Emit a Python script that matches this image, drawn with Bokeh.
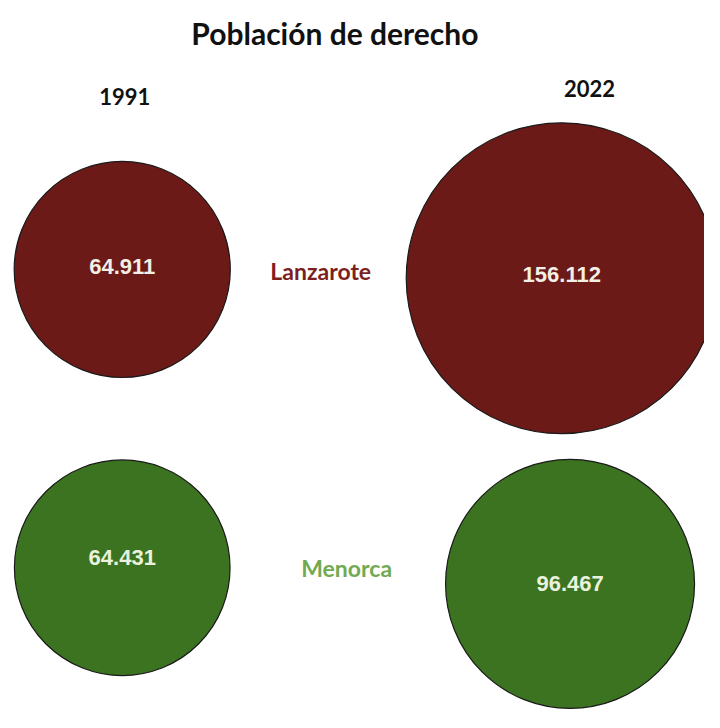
from bokeh.plotting import figure
from bokeh.models import Range1d, ColumnDataSource
from bokeh.core.properties import value
from bokeh.embed import file_html
from bokeh.resources import INLINE

# ---- data ----
title = "Población de derecho"
years = ["1991", "2022"]
islands = ["Lanzarote", "Menorca"]
pop_1991 = [64911, 64431]
pop_2022 = [156112, 96467]
value_labels_1991 = ["64.911", "64.431"]
value_labels_2022 = ["156.112", "96.467"]

# ---- layout (reference canvas 720x728, y downward) ----
W, H = 704, 712
REF_W, REF_H = 720, 728
cx = {("1991", "Lanzarote"): 124.5, ("1991", "Menorca"): 124.5,
      ("2022", "Lanzarote"): 574.0, ("2022", "Menorca"): 582.5}
cy = {("1991", "Lanzarote"): 275.0, ("1991", "Menorca"): 580.0,
      ("2022", "Lanzarote"): 284.0, ("2022", "Menorca"): 596.5}
lab_dy = {("1991", "Lanzarote"): -3, ("1991", "Menorca"): -10,
          ("2022", "Lanzarote"): -4, ("2022", "Menorca"): 0}
island_label_pos = {"Lanzarote": (327.5, 277), "Menorca": (354, 580)}
year_label_pos = {"1991": (127, 98.5), "2022": (602.5, 90)}
fill = {"Lanzarote": "#6b1a17", "Menorca": "#3b7320"}
label_col = {"Lanzarote": "#7d1f1e", "Menorca": "#72aa52"}
val_col = {"Lanzarote": "#f2efe6", "Menorca": "#eaf2de"}

# radius scale (reference pixels) from population
def radius_px(v):
    return 76.0 + 0.000532 * v

xs, ys, rs, cols, labs, ly, vc = [], [], [], [], [], [], []
for yr, pops, vl in (("1991", pop_1991, value_labels_1991), ("2022", pop_2022, value_labels_2022)):
    for isl, v, lab in zip(islands, pops, vl):
        xs.append(cx[(yr, isl)])
        ys.append(cy[(yr, isl)])
        ly.append(cy[(yr, isl)] + lab_dy[(yr, isl)])
        rs.append(radius_px(v))
        cols.append(fill[isl])
        labs.append(lab)
        vc.append(val_col[isl])

src = ColumnDataSource(dict(x=xs, y=ys, ly=ly, r=rs, c=cols, lab=labs, vc=vc))

p = figure(width=W, height=H, output_backend="svg", toolbar_location=None,
           x_range=Range1d(0, REF_W), y_range=Range1d(REF_H, 0),
           min_border=0, outline_line_color=None)
p.axis.visible = False
p.grid.visible = False
p.background_fill_color = "white"
p.border_fill_color = "white"

p.circle(x="x", y="y", radius="r", radius_dimension="x", source=src,
         fill_color="c", line_color="#1a1a1a", line_width=1.2)
p.text(x="x", y="ly", text="lab", source=src, text_color="vc",
       text_font=value("Liberation Sans"), text_font_style="bold",
       text_font_size="22px", text_align="center", text_baseline="middle")

# island labels
p.text(x=[island_label_pos[i][0] for i in islands], y=[island_label_pos[i][1] for i in islands],
       text=islands, text_color=[label_col[i] for i in islands],
       text_font=value("Lato"), text_font_style="bold", text_font_size="23px",
       text_align="center", text_baseline="middle")

# year labels
p.text(x=[year_label_pos[y][0] for y in years], y=[year_label_pos[y][1] for y in years],
       text=years, text_color="#111111",
       text_font=value("Lato"), text_font_style="bold", text_font_size="22px",
       text_align="center", text_baseline="middle")

# title
p.text(x=[342], y=[33], text=[title], text_color="#111111",
       text_font=value("Lato"), text_font_style="bold", text_font_size="30px",
       text_align="center", text_baseline="middle")

open("out.html", "w").write(file_html(p, INLINE))
